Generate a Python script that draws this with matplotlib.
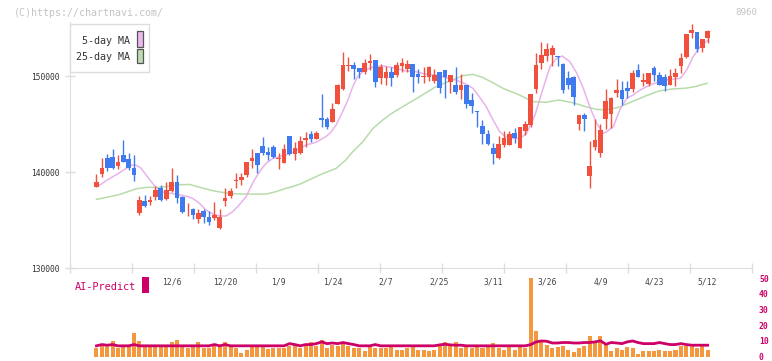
import numpy as np
import matplotlib
matplotlib.use("Agg")
import matplotlib.pyplot as plt
from matplotlib.patches import Rectangle
from matplotlib.transforms import blended_transform_factory

# daily candles, first entry is the flat bar before 11/18
opens = [138400,
         138400, 139830, 141460, 141560, 140660, 141770, 141360, 140420, 135760, 137010,
         136910, 137430, 138330, 137190, 138060, 138990, 137360, 135800, 136150, 135100,
         135940, 135310, 135170, 134170, 137010, 137540, 139100, 139170, 139720, 141180,
         141940, 142710, 142080, 142600, 141320, 140970, 143770, 141840, 141950, 143370,
         143960, 143440, 145590, 145520, 145240, 147120, 148660, 151040, 151150, 150830,
         150450, 151320, 151700, 149760, 149760, 150380, 150140, 151080, 150730, 151250,
         150210, 149930, 149930, 149510, 150380, 150630, 149410, 149060, 148540, 149060,
         147500, 146390, 144790, 143980, 142470, 141460, 142850, 142850, 144030, 142540,
         144310, 144900, 148610, 151320, 152120, 152190, 152120, 151250, 149760, 149930,
         145000, 145940, 139580, 142640, 142010, 145520, 146040, 148260, 148540, 148790,
         148650, 150630, 149410, 149130, 150870, 150100, 149930, 149060, 149930, 151080,
         152010, 154510, 154550, 152880, 153920]
highs = [138400,
         139790, 141460, 141880, 142400, 141800, 143330, 142010, 141770, 137500, 137600,
         137500, 138580, 138680, 138990, 140450, 139690, 137500, 136740, 136200, 136150,
         136110, 135940, 136880, 136150, 138300, 138300, 139860, 139860, 141080, 142430,
         142010, 143680, 142570, 142810, 142010, 142950, 143790, 143160, 143790, 144130,
         144270, 144270, 148090, 145730, 147150, 149200, 152500, 152000, 151420, 150870,
         151770, 152290, 151700, 151250, 151040, 150970, 151420, 151840, 151670, 151250,
         150730, 150900, 151040, 150730, 150380, 150630, 150100, 150900, 150210, 149060,
         148190, 146390, 145420, 144380, 143060, 143750, 144310, 144270, 144550, 144650,
         145350, 148130, 152360, 153510, 153400, 153230, 152120, 151390, 150520, 150030,
         145940, 146180, 143230, 145490, 144970, 148650, 147800, 149690, 149480, 149480,
         150630, 151250, 150350, 150350, 151040, 150420, 150210, 150730, 150800, 152360,
         154380, 155380, 154550, 153850, 154790]
lows = [138400,
        138400, 139510, 140140, 140280, 140350, 141000, 140210, 139100, 135560, 136320,
        136560, 137080, 137010, 137080, 137950, 136810, 135760, 135420, 135100, 134650,
        134650, 134480, 135000, 134100, 136490, 137330, 138370, 138650, 139510, 140420,
        139930, 141770, 141250, 141420, 140310, 140900, 141770, 141250, 141840, 142640,
        143160, 143440, 144690, 144450, 145170, 147050, 148540, 150560, 149690, 149750,
        150170, 150630, 148850, 149130, 149060, 148990, 149930, 150450, 150450, 148370,
        149310, 149310, 149510, 149310, 148260, 147740, 148190, 148090, 147600, 146700,
        146180, 144720, 142880, 142800, 140830, 141320, 142640, 142850, 142990, 142540,
        143860, 144650, 148260, 150700, 151560, 151080, 151080, 148260, 148650, 146980,
        144380, 144270, 138370, 142290, 141600, 144450, 144620, 147850, 146980, 147740,
        148370, 149930, 148990, 148990, 149510, 149060, 148440, 149060, 148990, 150350,
        151910, 153990, 152540, 152540, 153400]
closes = [138400,
          139000, 140420, 140450, 140450, 141040, 141060, 140450, 139690, 137080, 136460,
          137050, 138130, 137080, 138130, 138990, 137290, 135870, 135870, 135560, 135730,
          135350, 134790, 135490, 135350, 137290, 138020, 139170, 139450, 141040, 141460,
          140760, 142010, 141810, 141600, 141490, 142400, 141890, 142540, 143230, 143540,
          143440, 144060, 145450, 144720, 146560, 149060, 151150, 151110, 150730, 150430,
          151320, 151600, 149410, 150900, 150380, 149830, 151150, 151320, 151250, 149900,
          149900, 150000, 150900, 150100, 148790, 149860, 150100, 148370, 149060, 147050,
          146910, 146290, 143920, 142930, 141880, 142920, 143540, 143960, 143580, 144650,
          145000, 148130, 151150, 152190, 152810, 152880, 151940, 148540, 149060, 147850,
          145940, 145520, 140660, 143330, 144380, 147400, 147670, 148540, 147570, 148440,
          150350, 149930, 149580, 150350, 150100, 149060, 148990, 150000, 150350, 151910,
          154380, 154790, 152810, 153850, 154690]

# lower panel, read on its 0-50 scale
volume = [0,
          5.1, 7.2, 6.8, 10.1, 5.7, 6.8, 6.8, 15.2, 10.1, 6.8,
          6.8, 6.8, 6.8, 6.8, 9.5, 10.8, 6.8, 5.7, 6.8, 9.5,
          5.7, 5.1, 6.8, 6.8, 9.5, 6.8, 5.7, 2.5, 4.4, 6.8,
          6.8, 6.8, 4.6, 5.3, 5.7, 5.1, 6.8, 8.0, 5.1, 7.2,
          9.5, 6.8, 10.8, 5.7, 7.6, 6.8, 8.4, 6.8, 5.7, 5.7,
          3.8, 6.3, 5.1, 5.1, 5.1, 6.8, 4.4, 4.4, 5.7, 6.8,
          4.4, 4.4, 3.8, 4.4, 6.8, 9.3, 6.8, 9.3, 5.7, 6.8,
          5.1, 6.8, 5.1, 6.8, 8.6, 5.7, 4.4, 6.8, 4.4, 6.8,
          5.7, 50.0, 16.5, 9.3, 7.6, 5.1, 6.3, 7.0, 4.4, 3.0,
          5.7, 7.0, 13.1, 8.9, 13.1, 7.6, 3.8, 5.1, 4.4, 6.3,
          5.1, 1.7, 3.8, 3.8, 3.8, 4.4, 3.8, 3.8, 4.4, 6.8,
          6.8, 6.8, 5.5, 6.8, 4.4]
ai_predict = [np.nan,
              6.8, 7.6, 7.2, 7.6, 6.8, 6.8, 6.8, 7.6, 6.8, 6.8,
              6.8, 6.8, 6.8, 6.8, 6.8, 6.8, 6.8, 6.8, 6.8, 6.8,
              6.8, 6.8, 7.6, 6.8, 7.6, 6.8, 6.8, 6.8, 6.8, 6.8,
              6.8, 6.8, 6.8, 6.8, 6.8, 6.8, 8.2, 7.6, 6.8, 7.6,
              7.6, 8.2, 9.3, 8.2, 8.6, 8.2, 8.9, 8.2, 7.6, 6.8,
              6.8, 6.8, 7.6, 6.8, 6.8, 6.8, 6.8, 6.8, 6.8, 6.8,
              6.8, 6.8, 6.8, 6.8, 7.4, 7.8, 7.4, 7.2, 7.2, 6.8,
              6.8, 6.8, 6.8, 6.8, 6.8, 6.8, 6.8, 6.8, 6.8, 6.8,
              6.8, 7.6, 9.3, 9.9, 9.7, 8.6, 8.6, 8.9, 8.9, 8.6,
              8.6, 8.9, 8.9, 9.3, 10.0, 7.8, 8.9, 8.6, 8.2, 9.3,
              9.9, 8.9, 8.2, 8.2, 8.2, 8.9, 8.2, 7.6, 7.6, 8.2,
              7.6, 7.2, 7.2, 7.2, 7.2]

# moving averages (position in trading days, price)
ma5_pos = [0.5, 2, 3.9, 5.1, 6.4, 7.3, 8.2, 9.5, 10.7, 12, 13.8, 15.7, 16.9, 17.9,
           19.2, 20.4, 21.7, 22.9, 24.2, 25.4, 26.6, 27.9, 29.1, 30.4, 31.6, 32.9,
           34.1, 35.3, 37.2, 39.1, 40.9, 42.8, 43.7, 44.7, 45.9, 46.9, 47.8, 48.7,
           49.7, 50.9, 52.1, 53.4, 55, 57.7, 59.6, 61.5, 63.3, 65.2, 67.1, 69, 70.2,
           71.4, 72.7, 73.6, 75.2, 76.3, 77.6, 79, 80.2, 81.8, 83.3, 84.6, 85.8, 86.9,
           88.3, 89.6, 90.8, 92, 93.3, 94.5, 95.2, 96.4, 97.6, 98.9, 100.1, 101.4,
           103.2, 105.1, 107, 108.9, 110.1, 111.3, 112.6, 114.1]
ma5 = [138600, 139170, 139790, 140210, 140690, 140730, 140450, 139510, 138650, 137950,
       137780, 137600, 137450, 137260, 136740, 136040, 135630, 135420, 135420, 135870,
       136560, 137430, 138820, 140030, 140900, 141420, 141600, 141770, 142190, 142810,
       143090, 143680, 144130, 144900, 146290, 147500, 148890, 149930, 150450, 150800,
       151000, 151050, 150900, 150520, 150450, 150170, 150100, 149830, 149580, 149130,
       148720, 147850, 146810, 145800, 144200, 143680, 143510, 143510, 144000, 145940,
       148720, 150970, 151840, 152080, 151490, 150280, 148720, 146810, 145070, 144030,
       144200, 144720, 146460, 147670, 148020, 148540, 149060, 149410, 149650, 149760,
       150630, 152010, 153060, 153750]
ma25_pos = [0, 2.5, 4.4, 7.5, 9.4, 11.8, 15.6, 17.4, 19.3, 21.7, 24.3, 26.9, 29.1,
            31.6, 33.5, 35.3, 36.5, 38, 41.9, 44.7, 46.5, 47.8, 49.7, 51.5, 53.4,
            55.1, 56.8, 60, 63.3, 66.4, 68.3, 70.2, 72, 73.8, 75.8, 78.9, 81.4, 83.8,
            86.3, 88.8, 91.3, 93.2, 94.9, 97.4, 99.9, 102.4, 104.9, 107.4, 109.8,
            111.6, 113.9]
ma25 = [137150, 137430, 137670, 138260, 138400, 138400, 138680, 138700, 138400, 138050,
        137800, 137700, 137700, 137700, 137950, 138300, 138470, 138750, 139760, 140380,
        141250, 142120, 143160, 144500, 145420, 146110, 146700, 147750, 148890, 149580,
        150030, 150170, 149860, 149340, 148720, 148020, 147330, 147260, 147500, 147220,
        146800, 146530, 146460, 146740, 147330, 147920, 148440, 148650, 148720, 148890,
        149240]

date_labels = ["12/6", "12/20", "1/9", "1/24", "2/7", "2/25", "3/11", "3/26", "4/9", "4/23", "5/12"]
date_pos = [14, 24, 34, 44, 54, 64, 74, 84, 94, 104, 114]

UP = "#f0503c"
DOWN = "#3f7bef"
CRIMSON = "#cc0066"
MONO = "DejaVu Sans Mono"

W, H = 772, 361


def box(l, t, r, b):
    return [l / W, 1 - b / H, (r - l) / W, (b - t) / H]


fig = plt.figure(figsize=(W / 100, H / 100), dpi=100)
axv = fig.add_axes(box(70, 278, 752, 356.5))
ax = fig.add_axes(box(70, 22, 752, 268))
ax.patch.set_visible(False)
axv.patch.set_visible(False)

xmin, xmax = -4.94, 122.27
x = np.arange(len(opens)) - 1

# candles ---------------------------------------------------------------
o = np.array(opens, dtype=float)
c = np.array(closes, dtype=float)
colors = [UP if cc >= oo else DOWN for oo, cc in zip(o, c)]
bottoms = np.minimum(o, c)
heights = np.maximum(np.abs(c - o), 70)
ax.plot(ma25_pos, ma25, color="#b7dcaa", lw=1.1, zorder=1)
ax.plot(ma5_pos, ma5, color="#e8b3ea", lw=1.1, zorder=1)
ax.vlines(x, lows, highs, colors=colors, lw=1, zorder=2)
ax.bar(x, heights, bottom=bottoms, width=0.87, color=colors, linewidth=0, zorder=3)

ax.set_xlim(xmin, xmax)
ax.set_ylim(130000, 130000 + (268 - 22) / 0.0096)
for s in ["top", "right"]:
    ax.spines[s].set_visible(False)
for s in ["left", "bottom"]:
    ax.spines[s].set_color("#dddddd")
ax.set_yticks([130000, 140000, 150000])
ax.set_yticklabels(["130000", "140000", "150000"], fontfamily=MONO, fontsize=5.7, color="#333333")
ax.set_xticks(np.linspace(xmin, xmax, 12))
ax.set_xticklabels([])
ax.tick_params(axis="both", direction="inout", length=7, color="#dddddd", width=1)
ax.tick_params(axis="y", pad=4)

tr = blended_transform_factory(ax.transData, ax.transAxes)
for lab, p in zip(date_labels, date_pos):
    ax.text(p, -0.057, lab, transform=tr, ha="center", va="center",
            fontfamily=MONO, fontsize=5.8, color="#444444", clip_on=False)

# volume + AI predict ---------------------------------------------------
axv.bar(x, volume, width=0.75, color="#f3983f", linewidth=0, zorder=1)
axv.plot(x, ai_predict, color=CRIMSON, lw=2, zorder=2)
axv.set_xlim(xmin, xmax)
axv.set_ylim(0, 50)
for s in axv.spines.values():
    s.set_visible(False)
axv.set_xticks([])
axv.yaxis.tick_right()
axv.set_yticks([0, 10, 20, 30, 40, 50])
axv.set_yticklabels(["0", "10", "20", "30", "40", "50"], fontfamily=MONO, fontsize=5.8,
                    color=CRIMSON, fontweight="bold")
axv.tick_params(axis="y", length=0, pad=5)

# texts and legend ------------------------------------------------------
fig.text(14 / W, 1 - 12.5 / H, "(C)https://chartnavi.com/", fontfamily=MONO, fontsize=7.2,
         color="#c4c4c4", va="center")
fig.text(757 / W, 1 - 12.5 / H, "8960", fontfamily=MONO, fontsize=6.6, color="#c4c4c4",
         va="center", ha="right")

fig.add_artist(Rectangle((70 / W, 1 - 71.7 / H), 79 / W, 47.7 / H, transform=fig.transFigure,
                         facecolor="white", edgecolor="#dddddd", lw=1, zorder=5))
fig.text(129.5 / W, 1 - 41 / H, "5-day MA", fontfamily=MONO, fontsize=7.2, color="#333333",
         ha="right", va="center", zorder=6)
fig.text(129.5 / W, 1 - 56.5 / H, "25-day MA", fontfamily=MONO, fontsize=7.2, color="#333333",
         ha="right", va="center", zorder=6)
fig.add_artist(Rectangle((136.5 / W, 1 - 46.5 / H), 6 / W, 15 / H, transform=fig.transFigure,
                         facecolor="#ebb8eb", edgecolor="#555555", lw=0.9, zorder=6))
fig.add_artist(Rectangle((136.5 / W, 1 - 63 / H), 6 / W, 14.5 / H, transform=fig.transFigure,
                         facecolor="#bddbb1", edgecolor="#555555", lw=0.9, zorder=6))

fig.text(75 / W, 1 - 286.5 / H, "AI-Predict", fontfamily=MONO, fontsize=7.4, color=CRIMSON,
         va="center")
fig.add_artist(Rectangle((142 / W, 1 - 293 / H), 7 / W, 16 / H, transform=fig.transFigure,
                         facecolor=CRIMSON, edgecolor="none", zorder=6))

fig.savefig("out.png", dpi=100)
